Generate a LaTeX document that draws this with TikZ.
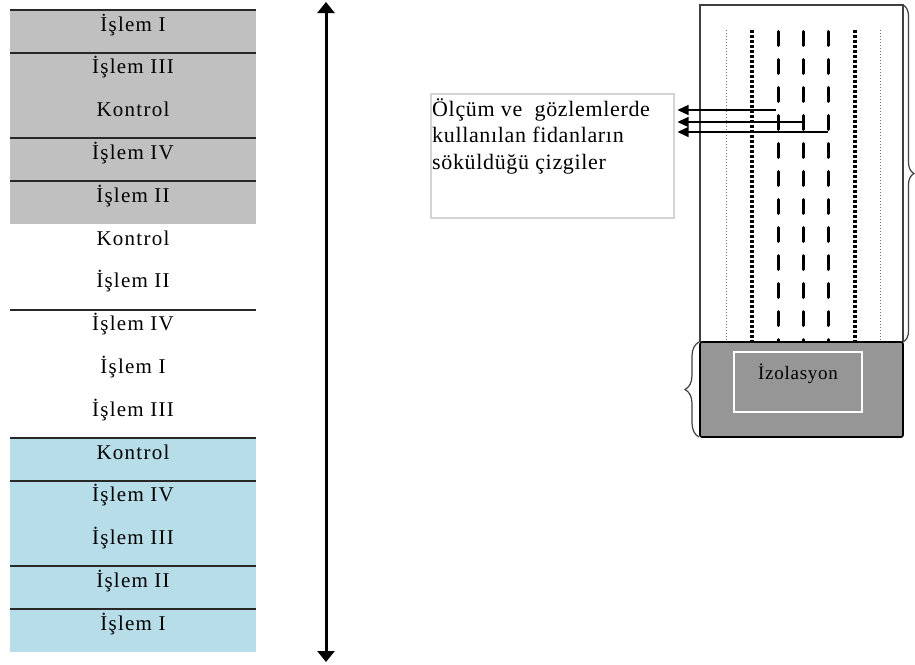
\documentclass[tikz,border=0pt]{standalone}
\usepackage{fontspec}
\setmainfont{Liberation Serif}
\newfontfamily\spacedserif[LetterSpace=6]{Liberation Serif}
\newfontfamily\isoserif[LetterSpace=4]{Liberation Serif}
\newfontfamily\noteserif[LetterSpace=3]{Liberation Serif}
\usetikzlibrary{arrows.meta,decorations.pathreplacing}
\definecolor{graycell}{RGB}{192,192,192}
\definecolor{bluecell}{RGB}{183,221,232}
\definecolor{isogray}{RGB}{150,150,150}
\definecolor{notegray}{RGB}{212,212,212}
\definecolor{linegray}{RGB}{40,40,40}
\tikzset{
  celltext/.style={anchor=base, inner sep=0pt, font=\spacedserif\fontsize{21}{24}\selectfont},
  rowline/.style={draw=linegray, line width=2pt},
  bigarrow/.style={line width=3pt, {Triangle[width=17pt,length=11pt]}-{Triangle[width=17pt,length=11pt]}},
  frameline/.style={draw=black!75, line width=1.6pt},
  bracestyle/.style={draw=black!75, line width=1.2pt, decorate},
  heavydash/.style={line width=3pt, line cap=round, dash pattern=on 14pt off 14pt},
  heavydot/.style={line width=3.2pt, dash pattern=on 3pt off 2pt},
  lightdot/.style={draw=black!55, line width=0.9pt, dash pattern=on 1pt off 2pt},
  pointer/.style={line width=1.2pt, -{Triangle[width=10pt,length=11pt]}},
}
\begin{document}
\begin{tikzpicture}[x=1pt,y=-1pt]
\useasboundingbox (0,0) rectangle (915,664);
% ---- left table ----
\fill[graycell] (10,10) rectangle (256,224);
\fill[bluecell] (10,438) rectangle (256,652);
\foreach \i in {0,1,3,4,7,10,11,13,14}
  \draw[rowline] (10,{10+42.8*\i}) -- (256,{10+42.8*\i});
\foreach \t [count=\i from 0] in {İşlem I,İşlem III,Kontrol,İşlem IV,İşlem II,Kontrol,İşlem II,İşlem IV,İşlem I,İşlem III,Kontrol,İşlem IV,İşlem III,İşlem II,İşlem I}
  \node[celltext] (r\i) at (133,{10+42.8*\i+21}) {\t};
% ---- vertical double arrow ----
\coordinate (atop) at (326,2);
\coordinate (abot) at (326,662);
\draw[bigarrow] (atop) -- (abot);
% ---- right plan ----
\draw[frameline] (700,342) -- (700,5) -- (903,5) -- (903,342);
\foreach \x in {726,880} \draw[lightdot] (\x,30) -- (\x,342);
\foreach \x in {752,855} \draw[heavydot] (\x,30) -- (\x,342);
\foreach \x in {778,803,828} \draw[heavydash] (\x,31.5) -- (\x,342);
\draw[frameline, draw=black, fill=isogray, rounded corners=2pt] (700,342) rectangle (903,437);
\node[draw=white, line width=1.5pt, fill=isogray, minimum width=128pt, minimum height=60pt, inner sep=0pt] (isobox) at (798,382) {};
\node[inner sep=0pt, font=\isoserif\fontsize{19}{22}\selectfont] (isolbl) at (798,374) {İzolasyon};
\draw[bracestyle, decoration={brace, amplitude=11pt}] (903,5) -- (903,342);
\draw[bracestyle, decoration={brace, amplitude=14pt}] (699,437) -- (699,342);
% ---- note ----
\node[draw=notegray, line width=1.5pt, minimum width=243pt, minimum height=124pt, anchor=north west, inner sep=0pt] (note) at (430,93) {};
\node[anchor=north west, align=left, inner sep=0pt, font=\noteserif\fontsize{22}{26.5}\selectfont] (notetxt) at (432,98) {Ölçüm ve~ gözlemlerde\\kullanılan fidanların\\söküldüğü çizgiler};
\coordinate (ne) at ([xshift=3pt]note.east);
\coordinate (s1) at (776,110);
\coordinate (s2) at (803,122);
\coordinate (s3) at (828,132);
\draw[pointer] (s1) -- (s1 -| ne);
\draw[pointer] (s2) -- (s2 -| ne);
\draw[pointer] (s3) -- (s3 -| ne);
\end{tikzpicture}
\end{document}
